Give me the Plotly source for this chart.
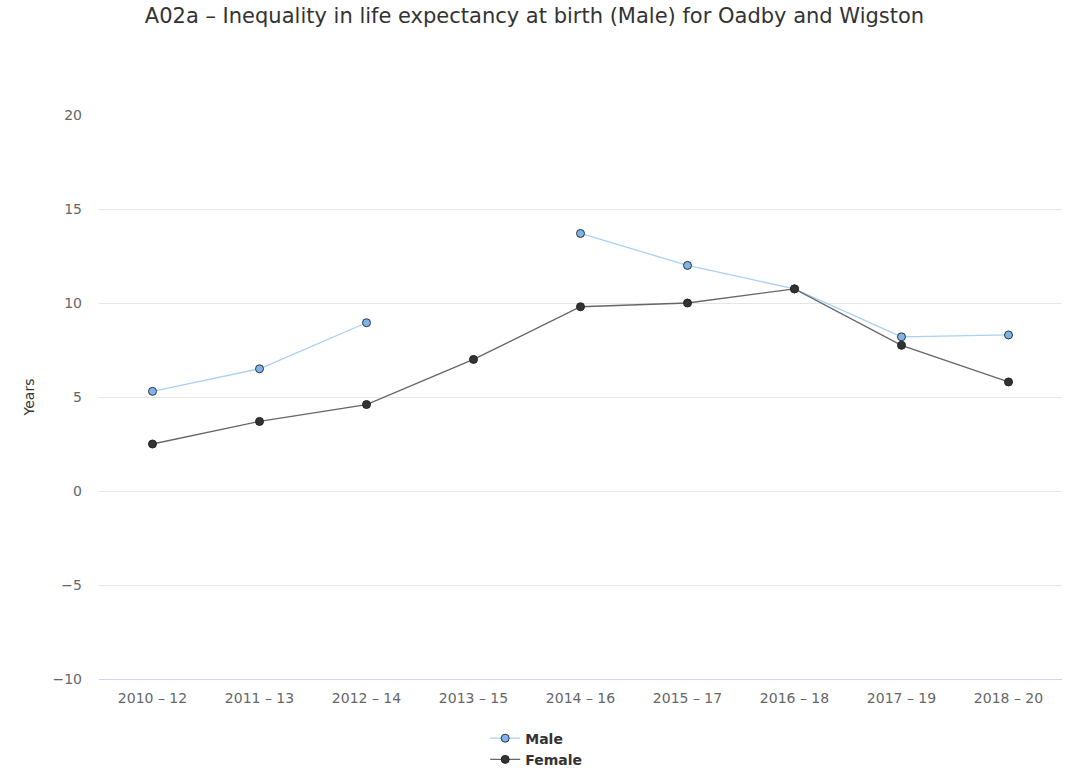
import plotly.graph_objects as go

categories = ["2010 – 12", "2011 – 13", "2012 – 14", "2013 – 15", "2014 – 16",
              "2015 – 17", "2016 – 18", "2017 – 19", "2018 – 20"]
male = [5.3, 6.5, 8.95, None, 13.7, 12.0, 10.75, 8.2, 8.3]
female = [2.5, 3.7, 4.6, 7.0, 9.8, 10.0, 10.75, 7.75, 5.8]
y_ticks = [-10, -5, 0, 5, 10, 15, 20]

fig = go.Figure()
fig.add_trace(go.Scatter(
    x=categories, y=male, name="<b>Male</b>", mode="lines+markers",
    line=dict(color="#a9d0f5", width=1.3),
    marker=dict(color="#7cb5ec", size=8, line=dict(color="#333333", width=1)),
    connectgaps=False,
))
fig.add_trace(go.Scatter(
    x=categories, y=female, name="<b>Female</b>", mode="lines+markers",
    line=dict(color="#666666", width=1.3),
    marker=dict(color="#333333", size=8, line=dict(color="#222222", width=1)),
))

fig.update_layout(
    width=1069, height=772,
    paper_bgcolor="white", plot_bgcolor="white",
    margin=dict(l=99, r=7, t=115, b=93),
    font=dict(family="DejaVu Sans, sans-serif", color="#666666"),
    title=dict(
        text="A02a – Inequality in life expectancy at birth (Male) for Oadby and Wigston",
        x=0.5, xanchor="center", y=0.9896, yanchor="top",
        font=dict(size=21, color="#333333", family="DejaVu Sans, sans-serif"),
    ),
    xaxis=dict(
        type="category", categoryorder="array", categoryarray=categories,
        showgrid=False, showline=True, linecolor="#ccd6eb", linewidth=1,
        ticks="", tickfont=dict(size=14, color="#666666"),
        range=[-0.5, 8.5], fixedrange=True, automargin=False,
        ticklabelstandoff=6,
    ),
    yaxis=dict(
        range=[-10, 20], tickvals=y_ticks, showgrid=True, gridcolor="#e6e6e6",
        zeroline=False, showline=False, ticks="", automargin=False,
        tickfont=dict(size=14, color="#666666"), ticklabelstandoff=16,
        title=dict(text="Years", font=dict(size=14, color="#333333"), standoff=14),
    ),
    legend=dict(
        orientation="v", x=0.454, xanchor="center",
        yref="container", y=0.064, yanchor="top",
        font=dict(size=14, color="#333333", family="DejaVu Sans, sans-serif"),
        tracegroupgap=0, itemwidth=30,
    ),
    showlegend=True,
)

fig.write_html("out.html", config={"displayModeBar": False},
               post_script="document.body.style.margin='0';")
